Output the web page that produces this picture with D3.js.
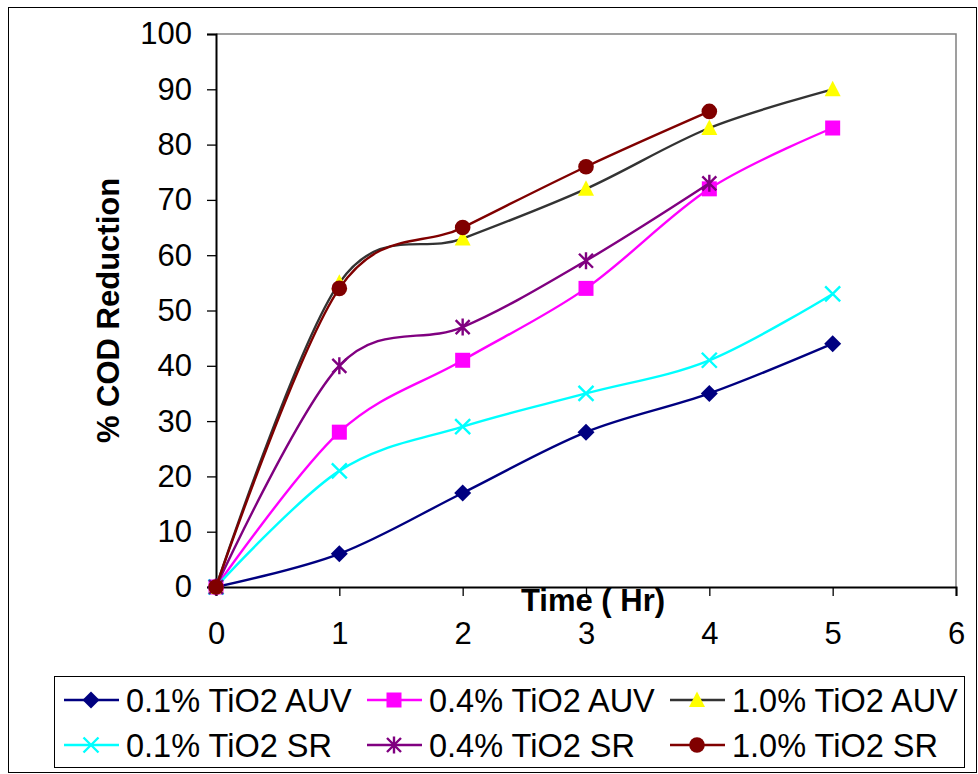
<!DOCTYPE html>
<html><head><meta charset="utf-8">
<script src="https://cdn.jsdelivr.net/npm/d3@7"></script>
<style>body{margin:0;background:#fff}svg{display:block}</style>
</head><body>
<script>
const hours = [0,1,2,3,4,5];
const auv01 = [0,6,17,28,35,44];
const auv04 = [0,28,41,54,72,83];
const auv10 = [0,55,63,72,83,90];
const sr01 = [0,21,29,35,41,53];
const sr04 = [0,40,47,59,73];
const sr10 = [0,54,65,76,86];
const xTicks = [0,1,2,3,4,5,6];
const yTicks = [0,10,20,30,40,50,60,70,80,90,100];
const seriesNames = ["0.1% TiO2 AUV","0.4% TiO2 AUV","1.0% TiO2 AUV","0.1% TiO2 SR","0.4% TiO2 SR","1.0% TiO2 SR"];

const series = [
  {name:seriesNames[0], vals:auv01, line:"#000080", fill:"#000080", sym:"diamond"},
  {name:seriesNames[1], vals:auv04, line:"#FF00FF", fill:"#FF00FF", sym:"square"},
  {name:seriesNames[2], vals:auv10, line:"#333333", fill:"#FFFF00", sym:"triangle"},
  {name:seriesNames[3], vals:sr01, line:"#00FFFF", fill:"#00FFFF", sym:"x"},
  {name:seriesNames[4], vals:sr04, line:"#800080", fill:"#800080", sym:"star"},
  {name:seriesNames[5], vals:sr10, line:"#800000", fill:"#800000", sym:"circle"}
];

const W=978,H=774;
const svg=d3.select("body").append("svg").attr("width",W).attr("height",H);
svg.append("rect").attr("x",8.5).attr("y",7.5).attr("width",968).attr("height",765)
  .attr("fill","#fff").attr("stroke","#000").attr("stroke-width",1);

const x=d3.scaleLinear().domain([0,6]).range([216,956]);
const y=d3.scaleLinear().domain([0,100]).range([587,34]);
const font="'Liberation Sans', Arial, sans-serif";
const FS=31;

svg.append("path").attr("d",`M${x(0)},${y(100)}H${x(6)}V${y(0)}`).attr("fill","none").attr("stroke","#808080").attr("stroke-width",1.5);

const yAxis=svg.append("g").attr("transform",`translate(${x(0)},0)`)
  .call(d3.axisLeft(y).tickValues(yTicks).tickFormat(d3.format("d")).tickSize(9).tickPadding(15));
const xAxis=svg.append("g").attr("transform",`translate(0,${y(0)})`)
  .call(d3.axisBottom(x).tickValues(xTicks).tickFormat(d3.format("d")).tickSize(9).tickPadding(26));
[yAxis,xAxis].forEach(g=>{
  g.attr("font-family",font).attr("font-size",FS);
  g.select(".domain").attr("stroke","#000").attr("stroke-width",2);
  g.selectAll(".tick line").attr("stroke","#000").attr("stroke-width",1.3);
  g.selectAll(".tick text").attr("fill","#000");
});

svg.append("text").attr("transform",`translate(119,${y(50)}) rotate(-90)`).attr("text-anchor","middle")
  .attr("font-family",font).attr("font-weight","bold").attr("font-size",FS).text("% COD Reduction");
svg.append("text").attr("x",593).attr("y",611).attr("text-anchor","middle")
  .attr("font-family",font).attr("font-weight","bold").attr("font-size",FS).text("Time ( Hr)");

function marker(g,sym,cx,cy,s){
  if(sym==="diamond") g.append("path").attr("d",`M${cx},${cy-8.5}L${cx+8.5},${cy}L${cx},${cy+8.5}L${cx-8.5},${cy}Z`).attr("fill",s.fill);
  else if(sym==="square") g.append("rect").attr("x",cx-7.5).attr("y",cy-7.5).attr("width",15).attr("height",15).attr("fill",s.fill);
  else if(sym==="triangle") g.append("path").attr("d",`M${cx},${cy-8.5}L${cx+8},${cy+7}L${cx-8},${cy+7}Z`).attr("fill",s.fill);
  else if(sym==="circle") g.append("circle").attr("cx",cx).attr("cy",cy).attr("r",7.8).attr("fill",s.fill);
  else if(sym==="x") g.append("path").attr("d",`M${cx-7.5},${cy-7.5}L${cx+7.5},${cy+7.5}M${cx+7.5},${cy-7.5}L${cx-7.5},${cy+7.5}`).attr("stroke",s.fill).attr("stroke-width",2.4);
  else if(sym==="star") g.append("path").attr("d",`M${cx-7},${cy-7}L${cx+7},${cy+7}M${cx+7},${cy-7}L${cx-7},${cy+7}M${cx},${cy-8.5}V${cy+8.5}`).attr("stroke",s.fill).attr("stroke-width",2.4);
}

const line=d3.line().x((d,i)=>x(hours[i])).y(d=>y(d)).curve(d3.curveCardinal.tension(0));
series.forEach(s=>{
  const g=svg.append("g");
  g.append("path").attr("d",line(s.vals)).attr("fill","none").attr("stroke",s.line).attr("stroke-width",2.4);
  s.vals.forEach((v,i)=>marker(g,s.sym,x(hours[i]),y(v),s));
});

// legend
svg.append("rect").attr("x",54.5).attr("y",676.5).attr("width",910).attr("height",91)
  .attr("fill","#fff").attr("stroke","#000").attr("stroke-width",1);
const colX=[64,367,670], rowY=[700,745];
series.forEach((s,i)=>{
  const cx=colX[i%3], cy=rowY[Math.floor(i/3)];
  const g=svg.append("g");
  g.append("line").attr("x1",cx).attr("x2",cx+55).attr("y1",cy).attr("y2",cy).attr("stroke",s.line).attr("stroke-width",2.4);
  marker(g,s.sym,cx+27,cy,s);
  g.append("text").attr("x",cx+62).attr("y",cy+12).attr("font-family",font).attr("font-size",32.5).text(s.name);
});
</script>
</body></html>
